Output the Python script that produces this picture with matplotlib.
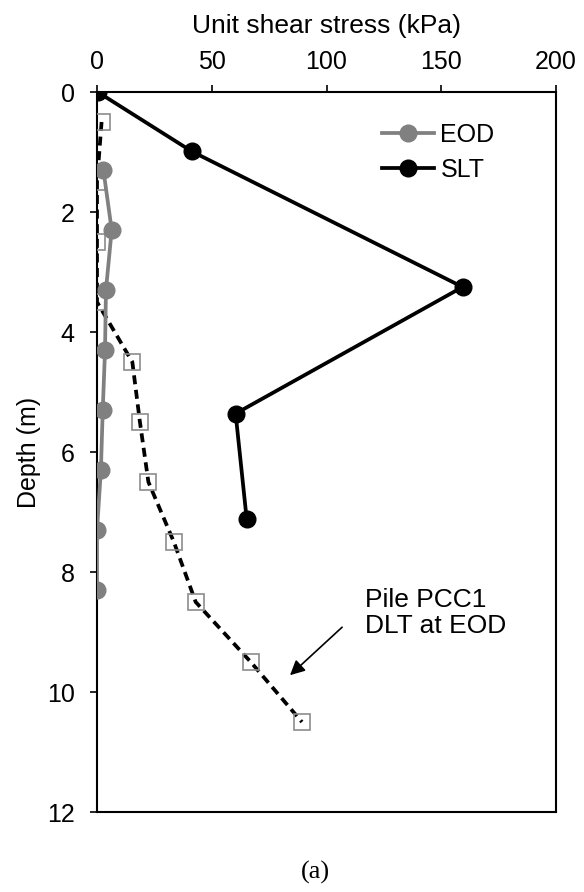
import matplotlib
matplotlib.use('Agg')
import matplotlib.pyplot as plt
from matplotlib.lines import Line2D

plt.rcParams['font.family'] = ['Liberation Sans', 'DejaVu Sans']

# EOD (gray circles)
eod_stress = [2.8, 6.4, 3.9, 3.5, 2.5, 1.7, 0.0, 0.0]
eod_depth = [1.3, 2.3, 3.3, 4.3, 5.3, 6.3, 7.3, 8.3]

# SLT (black circles)
slt_stress = [0.3, 41.3, 159.3, 60.4, 65.2]
slt_depth = [0.0, 0.99, 3.25, 5.36, 7.11]

# DLT at EOD (dashed, open squares)
dlt_stress = [2.0, 0.0, 0.0, 0.0, 15.4, 18.7, 22.4, 33.5, 43.0, 67.0, 89.3]
dlt_depth = [0.5, 1.5, 2.5, 3.5, 4.5, 5.5, 6.5, 7.5, 8.5, 9.5, 10.5]

xticks = [0, 50, 100, 150, 200]
yticks = [0, 2, 4, 6, 8, 10, 12]

fs = 18

fig = plt.figure(figsize=(5.84, 8.92), dpi=100)
ax = fig.add_axes([97 / 584, 1 - 812 / 892, 459 / 584, 720 / 892])

ax.plot(dlt_stress, dlt_depth, color='black', lw=2.7, dashes=(2.4, 1.5),
        marker='s', ms=11, mfc='none', mec='#8c8c8c', mew=1.2, zorder=3)
ax.plot(eod_stress, eod_depth, color='#808080', lw=2.7,
        marker='o', ms=12, zorder=4)
ax.plot(slt_stress, slt_depth, color='black', lw=2.7,
        marker='o', ms=12, zorder=5)

ax.set_xlim(0, 200)
ax.set_ylim(12, 0)
ax.set_xticks(xticks)
ax.set_yticks(yticks)
ax.xaxis.tick_top()
ax.xaxis.set_label_position('top')
ax.tick_params(axis='both', direction='out', length=5, width=1.2, labelsize=fs)
ax.tick_params(axis='x', top=True, bottom=False, pad=8)
ax.tick_params(axis='y', pad=11)
for s in ax.spines.values():
    s.set_linewidth(1.5)
    s.set_color('black')

ax.set_xlabel('Unit shear stress (kPa)', fontsize=19, labelpad=12)
ax.set_ylabel('Depth (m)', fontsize=fs, labelpad=4)

handles = [Line2D([], [], color='#808080', lw=2.7, marker='o', ms=12),
           Line2D([], [], color='black', lw=2.7, marker='o', ms=12)]
ax.legend(handles, ['EOD', 'SLT'], loc='upper left', bbox_to_anchor=(0.599, 0.971),
          frameon=False, fontsize=fs, handlelength=2.1, handletextpad=0.24,
          labelspacing=0.44, borderaxespad=0)

ax.text(116.8, 8.68, 'Pile PCC1\nDLT at EOD', fontsize=19, ha='left', va='center',
        linespacing=1.1)
ax.annotate('', xy=(84.1, 9.72), xytext=(106.8, 8.92),
            arrowprops=dict(arrowstyle='-|>', color='black', lw=1.2,
                            mutation_scale=22, shrinkA=0, shrinkB=0))

fig.text(315 / 584, 1 - 872 / 892, '(a)', fontsize=19, family='Liberation Serif',
         ha='center', va='center')

fig.savefig('out.png', dpi=100)
